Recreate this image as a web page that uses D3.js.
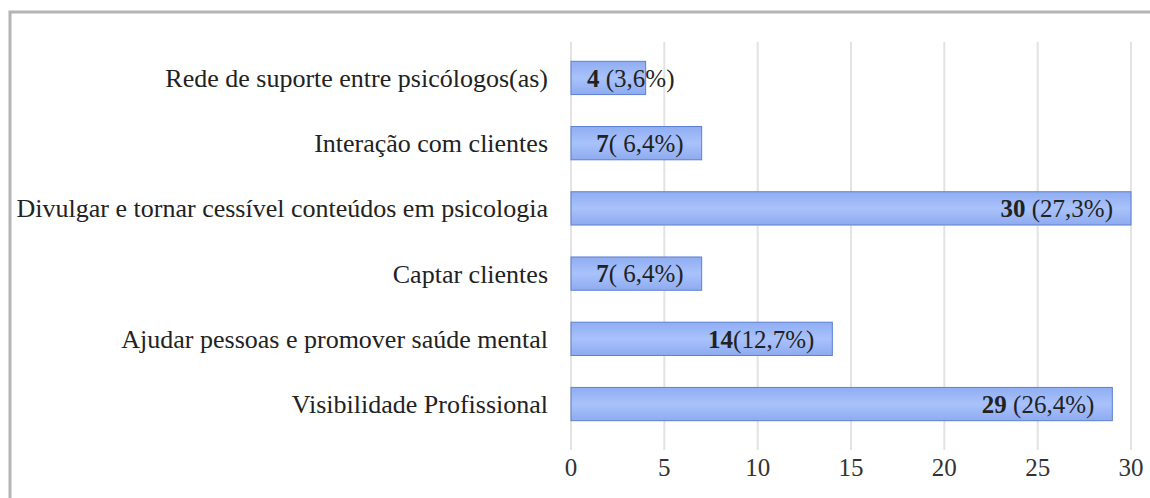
<!DOCTYPE html>
<html>
<head>
<meta charset="utf-8">
<script src="https://cdn.jsdelivr.net/npm/d3@7"></script>
<style>
  body { margin: 0; background: #fff; }
  text { font-family: "Liberation Serif", "Times New Roman", serif; }
</style>
</head>
<body>
<div id="chart"></div>
<script>
var categories = [
  'Rede de suporte entre psicólogos(as)',
  'Interação com clientes',
  'Divulgar e tornar cessível conteúdos em psicologia',
  'Captar clientes',
  'Ajudar pessoas e promover saúde mental',
  'Visibilidade Profissional'
];
var values = [4, 7, 30, 7, 14, 29];
var valueLabels = ['4', '7', '30', '7', '14', '29'];
var pctLabels = [' (3,6%)', '( 6,4%)', ' (27,3%)', '( 6,4%)', '(12,7%)', ' (26,4%)'];
var ticks = [0, 5, 10, 15, 20, 25, 30];

var width = 1150, height = 498;
var svg = d3.select('#chart').append('svg')
    .attr('width', width)
    .attr('height', height);

// frame
svg.append('rect')
    .attr('x', 10).attr('y', 12)
    .attr('width', 1160).attr('height', 500)
    .attr('fill', '#fff')
    .attr('stroke', '#b4b4b4')
    .attr('stroke-width', 3);

var x = d3.scaleLinear().domain([0, 30]).range([571, 1131]);
var y = d3.scaleBand().domain(categories).range([45, 437]).paddingInner(0.49).paddingOuter(0.25);

// gridlines
svg.append('g').selectAll('line')
    .data(ticks)
    .enter().append('line')
    .attr('x1', d => x(d)).attr('x2', d => x(d))
    .attr('y1', 42).attr('y2', 450)
    .attr('stroke', '#e3e3e3')
    .attr('stroke-width', 2);

var defs = svg.append('defs');
var grad = defs.append('linearGradient')
    .attr('id', 'barGrad')
    .attr('x1', 0).attr('y1', 0).attr('x2', 0).attr('y2', 1);
grad.append('stop').attr('offset', '0%').attr('stop-color', '#8fadf2');
grad.append('stop').attr('offset', '50%').attr('stop-color', '#a9c2fb');
grad.append('stop').attr('offset', '100%').attr('stop-color', '#8eabf0');

svg.append('g').selectAll('rect')
    .data(values)
    .enter().append('rect')
    .attr('x', x(0))
    .attr('y', (d, i) => y(categories[i]))
    .attr('width', d => x(d) - x(0))
    .attr('height', y.bandwidth())
    .attr('fill', 'url(#barGrad)')
    .attr('stroke', '#5d7fd0')
    .attr('stroke-width', 1);

// category labels
svg.append('g').selectAll('text')
    .data(categories)
    .enter().append('text')
    .attr('x', 548)
    .attr('y', d => y(d) + y.bandwidth() / 2)
    .attr('dy', '0.35em')
    .attr('text-anchor', 'end')
    .attr('font-size', 26)
    .attr('fill', '#222')
    .text(d => d);

// value labels
var vl = svg.append('g').selectAll('text')
    .data(values)
    .enter().append('text')
    .attr('y', (d, i) => y(categories[i]) + y.bandwidth() / 2)
    .attr('dy', '0.35em')
    .attr('font-size', 25)
    .attr('fill', '#222');
vl.append('tspan').attr('font-weight', 'bold').text((d, i) => valueLabels[i]);
vl.append('tspan').text((d, i) => pctLabels[i]);
vl.each(function(d) {
  var w = this.getComputedTextLength();
  var xx = Math.max(x(0) + 16, x(d) - 18 - w);
  d3.select(this).attr('x', xx);
});

// x axis labels
svg.append('g').selectAll('text')
    .data(ticks)
    .enter().append('text')
    .attr('x', d => x(d))
    .attr('y', 467)
    .attr('dy', '0.35em')
    .attr('text-anchor', 'middle')
    .attr('font-size', 25)
    .attr('fill', '#333')
    .text(d => d);
</script>
</body>
</html>
